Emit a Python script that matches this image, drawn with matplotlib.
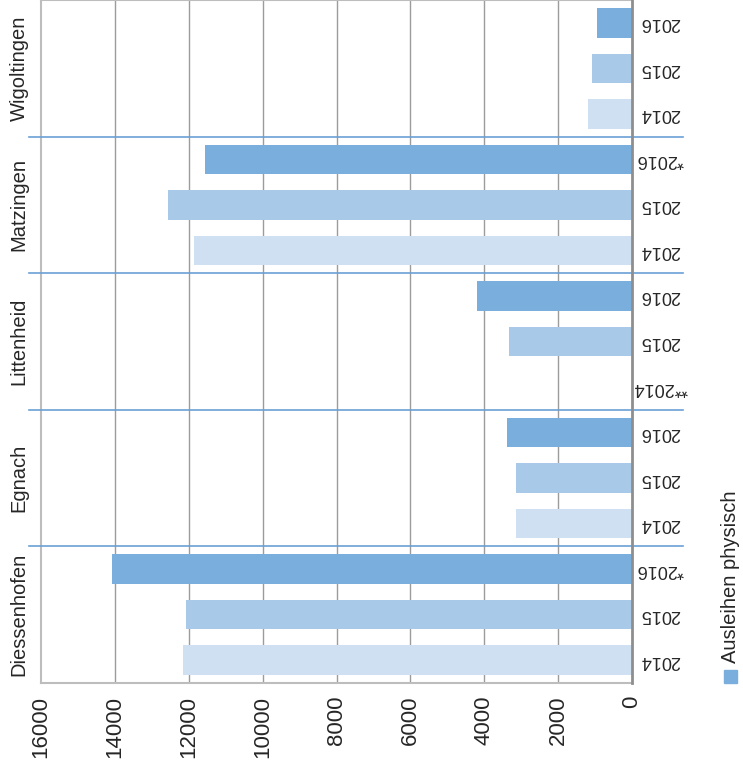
import numpy as np
import matplotlib
matplotlib.use("Agg")
import matplotlib.pyplot as plt
from matplotlib.transforms import blended_transform_factory
from matplotlib.patches import Rectangle

plt.rcParams["font.family"] = ["Liberation Sans", "DejaVu Sans"]

# ── Data (physical loans per library and year) ───────────────────────────────
libraries = ["Diessenhofen", "Egnach", "Littenheid", "Matzingen", "Wigoltingen"]
years = ["2014", "2015", "2016"]
loans_2014 = [12160, 3140, 0, 11860, 1190]
loans_2015 = [12080, 3140, 3330, 12560, 1080]
loans_2016 = [14090, 3390, 4200, 11560, 950]
year_labels = [
    ["2014", "2015", "*2016"],
    ["2014", "2015", "2016"],
    ["**2014", "2015", "2016"],
    ["2014", "2015", "*2016"],
    ["2014", "2015", "2016"],
]
value_ticks = [0, 2000, 4000, 6000, 8000, 10000, 12000, 14000, 16000]
legend_label = "Ausleihen physisch"

COLORS = {"2014": "#cfe0f2", "2015": "#a8c9e7", "2016": "#7aaedd"}
SEP_COLOR = "#6a9fd4"
TEXT = "#262626"

W, H = 743, 765
fig = plt.figure(figsize=(W / 100, H / 100), dpi=100)
ax = fig.add_axes([41 / W, (H - 683) / H, (632 - 41) / W, 683 / H])

series = [loans_2014, loans_2015, loans_2016]
for gi, lib in enumerate(libraries):
    for yi, year in enumerate(years):
        pos = gi * 3 + yi + 0.5
        ax.barh(pos, series[yi][gi], height=0.65, color=COLORS[year],
                edgecolor="none", zorder=3)
        ax.text(660, pos, year_labels[gi][yi],
                transform=blended_transform_factory(
                    matplotlib.transforms.IdentityTransform(), ax.transData),
                rotation=180, ha="center", va="center", fontsize=13,
                color=TEXT)

ax.set_xlim(16000, 0)
ax.set_ylim(0, 15)

# vertical value grid
for v in value_ticks[1:-1]:
    ax.axvline(v, color="#9c9c9c", lw=1.0, zorder=1)

# group separators reaching outside the plot area
sep_tr = blended_transform_factory(ax.transAxes, ax.transData)
for b in [3, 6, 9, 12]:
    ax.plot([(29 - 41) / 591, (683 - 41) / 591], [b, b], color=SEP_COLOR,
            lw=1.2, transform=sep_tr, clip_on=False, zorder=4)

# library names
for gi, lib in enumerate(libraries):
    ax.text(19 / W, gi * 3 + 1.5, lib,
            transform=blended_transform_factory(fig.transFigure, ax.transData),
            rotation=90, ha="center", va="center", fontsize=14.5, color=TEXT)

ax.set_xticks(value_ticks)
ax.set_xticklabels([str(v) for v in value_ticks], rotation=90, fontsize=16,
                   color=TEXT, va="top")
ax.tick_params(axis="x", length=0, pad=9)
ax.set_yticks([])

for side in ["top", "left", "bottom"]:
    ax.spines[side].set_color("#bdbdbd")
    ax.spines[side].set_linewidth(1.5)
ax.spines["right"].set_color("#8e8e8e")
ax.spines["right"].set_linewidth(2.0)
ax.spines["right"].set_zorder(5)

# legend
fig.patches.append(Rectangle((724 / W, (H - 683) / H), 13 / W, 13 / H,
                             transform=fig.transFigure, color=COLORS["2016"]))
fig.text(730 / W, (H - 663) / H, legend_label, rotation=90, ha="center",
         va="bottom", fontsize=14.5, color=TEXT)

fig.savefig("out.png", dpi=100)
